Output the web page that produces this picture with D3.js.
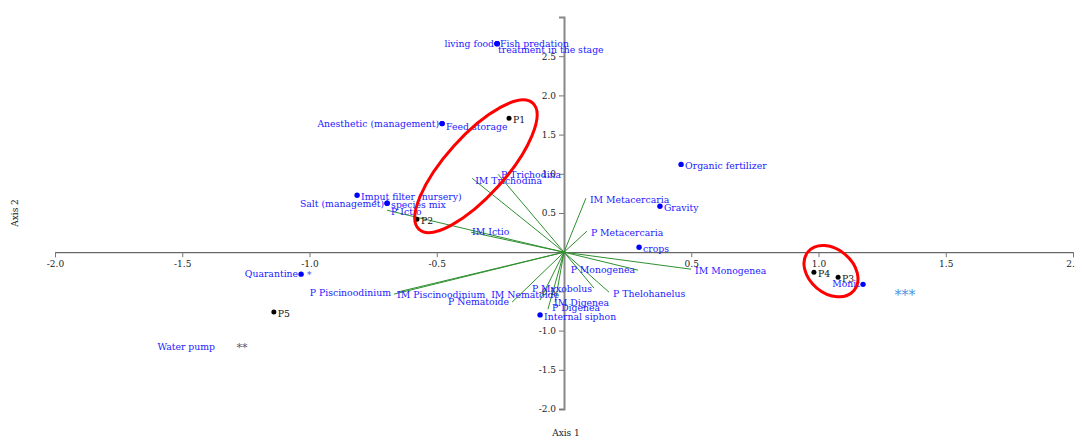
<!DOCTYPE html>
<html>
<head>
<meta charset="utf-8">
<script src="https://cdn.jsdelivr.net/npm/d3@7"></script>
<style>
  body { margin: 0; background: #fff; }
  svg { display: block; font-family: "DejaVu Serif", serif; }
</style>
</head>
<body>
<div class="container"></div>
<script>
// sites (black points)
var siteNames = ["P1", "P2", "P3", "P4", "P5"];
var siteAxis1 = [-0.216, -0.578, 1.077, 0.982, -1.14];
var siteAxis2 = [1.707, 0.42, -0.318, -0.255, -0.764];

// management variables (blue points)
var varNames = ["living food", "Fish predation", "treatment in the stage", "Anesthetic (management)",
                "Feed storage", "Organic fertilizer", "Gravity", "crops", "Imput filter (nursery)",
                "species mix", "Salt (managemet)", "Quarantine", "Internal siphon", "Monit"];
var varAxis1 = [-0.263, -0.263, -0.263, -0.479, -0.479, 0.46, 0.377, 0.295, -0.813,
                -0.695, -0.695, -1.033, -0.094, 1.175];
var varAxis2 = [2.66, 2.66, 2.66, 1.64, 1.64, 1.12, 0.586, 0.064, 0.726,
                0.624, 0.624, -0.28, -0.80, -0.41];

// parasite vectors (green arrows)
var vecNames = ["P Trichodina", "IM Trichodina", "P Ictio", "IM Ictio", "IM Metacercaria",
                "P Metacercaria", "IM Monogenea", "P Monogenea", "P Thelohanelus", "P Myxobolus",
                "IM Nematoide", "P Nematoide", "IM Digenea", "P Digenea", "IM Piscinoodinium",
                "P Piscinoodinium"];
var vecAxis1 = [-0.259, -0.361, -0.695, -0.365, 0.086, 0.090, 0.499, 0.291, 0.177, 0.118,
                -0.094, -0.204, -0.035, -0.063, -0.656, -0.668];
var vecAxis2 = [0.994, 0.943, 0.535, 0.255, 0.688, 0.268, -0.217, -0.229, -0.51, -0.459,
                -0.61, -0.637, -0.637, -0.726, -0.51, -0.535];

// loose text marks
var noteTexts = ["*", "**", "***", "Water pump"];
var noteAxis1 = [-1.01, -1.265, 1.34, -1.371];
var noteAxis2 = [-0.28, -1.197, -0.535, -1.197];

// highlighted groups
var groupAxis1 = [-0.346, 1.049];
var groupAxis2 = [1.096, -0.242];

var xTicks = [-2, -1.5, -1, -0.5, 0.5, 1, 1.5, 2];
var yTicks = [-2, -1.5, -1, -0.5, 0.5, 1, 1.5, 2, 2.5];

const WIDTH = 1075;
const HEIGHT = 437;
const FS = 9.3;

var xScale = d3.scaleLinear().domain([-2, 2]).range([55, 1073]);
var yScale = d3.scaleLinear().domain([-2, 3]).range([409, 17]);

// label placement: dx, dy, anchor
var labelPos = {
  "living food": [-3, 3, "end"],
  "Fish predation": [3, 3, "start"],
  "treatment in the stage": [1, 9, "start"],
  "Anesthetic (management)": [-3, 3, "end"],
  "Feed storage": [4, 6, "start"],
  "Salt (managemet)": [-3, 4, "end"],
  "Quarantine": [-3, 3, "end"],
  "Monit": [-3, 3, "end"],
  "P Monogenea": [-3, 3, "end"],
  "P Myxobolus": [-2, 4, "end"],
  "IM Nematoide": [19, -2, "end"],
  "P Nematoide": [-3, 3, "end"],
  "IM Digenea": [-1, 4, "start"],
  "P Digenea": [4, 2, "start"],
  "IM Piscinoodinium": [0, 6, "start"],
  "P Piscinoodinium": [-3, 2, "end"],
  "IM Ictio": [1, 3, "start"],
  "P Ictio": [4, 5, "start"],
  "IM Trichodina": [3, 6, "start"],
  "P Trichodina": [3, 4, "start"]
};
var place = function (name) { return labelPos[name] || [4, 5, "start"]; };

var fmt = function (d) { return d.toFixed(1); };

var svg = d3.select("body").append("svg")
  .attr("width", WIDTH)
  .attr("height", HEIGHT);

// axes
var gx = svg.append("g")
  .attr("transform", "translate(0," + yScale(0) + ")")
  .call(d3.axisBottom(xScale).tickValues(xTicks).tickFormat(fmt).tickSize(5).tickSizeOuter(5));
gx.select(".domain").attr("stroke", "#444");
gx.selectAll(".tick line").attr("stroke", "#777");
gx.selectAll("text").attr("font-family", "DejaVu Serif").attr("font-size", 9).attr("fill", "#222");

var gy = svg.append("g")
  .attr("transform", "translate(" + xScale(0) + ",0)")
  .call(d3.axisLeft(yScale).tickValues(yTicks).tickFormat(fmt).tickSize(5).tickSizeOuter(5));
gy.select(".domain").attr("stroke", "#888").attr("stroke-width", 2);
gy.selectAll(".tick line").attr("stroke", "#777");
gy.selectAll("text").attr("font-family", "DejaVu Serif").attr("font-size", 9).attr("fill", "#222");

svg.append("text").attr("x", 566).attr("y", 436).attr("text-anchor", "middle")
  .attr("font-size", 9).attr("fill", "#222").text("Axis 1");
svg.append("text").attr("transform", "translate(18,213) rotate(-90)").attr("text-anchor", "middle")
  .attr("font-size", 9).attr("fill", "#222").text("Axis 2");

// vectors
var vecs = vecNames.map(function (n, i) { return { name: n, x: vecAxis1[i], y: vecAxis2[i] }; });
svg.append("g").selectAll("line").data(vecs).enter().append("line")
  .attr("x1", xScale(0)).attr("y1", yScale(0))
  .attr("x2", function (d) { return xScale(d.x); })
  .attr("y2", function (d) { return yScale(d.y); })
  .attr("stroke", "#2f8f2f").attr("stroke-width", 1);
svg.append("g").selectAll("text").data(vecs).enter().append("text")
  .attr("x", function (d) { return xScale(d.x) + place(d.name)[0]; })
  .attr("y", function (d) { return yScale(d.y) + place(d.name)[1]; })
  .attr("text-anchor", function (d) { return place(d.name)[2]; })
  .attr("font-size", FS).attr("fill", "#1a1aff")
  .text(function (d) { return d.name; });

// variables
var vars = varNames.map(function (n, i) { return { name: n, x: varAxis1[i], y: varAxis2[i] }; });
svg.append("g").selectAll("circle").data(vars).enter().append("circle")
  .attr("cx", function (d) { return xScale(d.x); })
  .attr("cy", function (d) { return yScale(d.y); })
  .attr("r", 2.7).attr("fill", "blue");
svg.append("g").selectAll("text").data(vars).enter().append("text")
  .attr("x", function (d) { return xScale(d.x) + place(d.name)[0]; })
  .attr("y", function (d) { return yScale(d.y) + place(d.name)[1]; })
  .attr("text-anchor", function (d) { return place(d.name)[2]; })
  .attr("font-size", FS).attr("fill", "#1a1aff")
  .text(function (d) { return d.name; });

// sites
var sites = siteNames.map(function (n, i) { return { name: n, x: siteAxis1[i], y: siteAxis2[i] }; });
svg.append("g").selectAll("circle").data(sites).enter().append("circle")
  .attr("cx", function (d) { return xScale(d.x); })
  .attr("cy", function (d) { return yScale(d.y); })
  .attr("r", 2.5).attr("fill", "#000");
svg.append("g").selectAll("text").data(sites).enter().append("text")
  .attr("x", function (d) { return xScale(d.x) + 4; })
  .attr("y", function (d) { return yScale(d.y) + 5; })
  .attr("font-size", FS).attr("fill", "#111")
  .text(function (d) { return d.name; });

// notes: anchor, size, colour, dy
var noteStyle = {
  "*": ["start", 9, "#3355ee", 4],
  "**": ["middle", 11, "#4a5a80", 5],
  "***": ["middle", 14, "#4a90e2", 6],
  "Water pump": ["end", FS, "#1a1aff", 4]
};
var notes = noteTexts.map(function (t, i) { return { text: t, x: noteAxis1[i], y: noteAxis2[i] }; });
svg.append("g").selectAll("text").data(notes).enter().append("text")
  .attr("x", function (d) { return xScale(d.x); })
  .attr("y", function (d) { return yScale(d.y) + noteStyle[d.text][3]; })
  .attr("text-anchor", function (d) { return noteStyle[d.text][0]; })
  .attr("font-size", function (d) { return noteStyle[d.text][1]; })
  .attr("fill", function (d) { return noteStyle[d.text][2]; })
  .text(function (d) { return d.text; });

// highlight ellipses: rx, ry in px, rotation
var ellShape = [[85, 30, -48], [30, 22, 40]];
svg.append("g").selectAll("ellipse").data(groupAxis1).enter().append("ellipse")
  .attr("transform", function (d, i) {
    return "translate(" + xScale(d) + "," + yScale(groupAxis2[i]) + ") rotate(" + ellShape[i][2] + ")";
  })
  .attr("rx", function (d, i) { return ellShape[i][0]; })
  .attr("ry", function (d, i) { return ellShape[i][1]; })
  .attr("fill", "none").attr("stroke", "red").attr("stroke-width", 3);
</script>
</body>
</html>
